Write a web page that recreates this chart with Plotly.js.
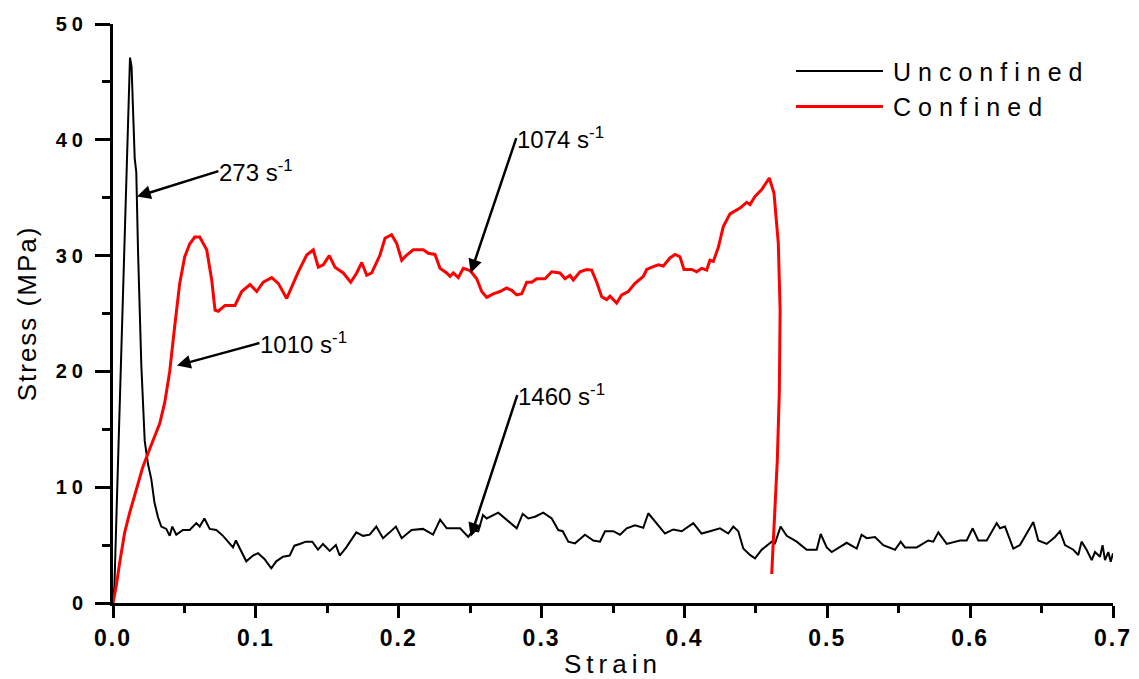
<!DOCTYPE html>
<html>
<head>
<meta charset="utf-8">
<script src="https://cdn.plot.ly/plotly-3.0.1.min.js"></script>
<style>
  html, body { margin: 0; padding: 0; background: #fff; }
  #chart { width: 1139px; height: 679px; }
  .xtick text { letter-spacing: 2px; }
  .ytick text { letter-spacing: 5px; }
  .xtitle { letter-spacing: 5px; }
  .ytitle { letter-spacing: 2px; }
  .legendtext { letter-spacing: 7px; }
</style>
</head>
<body>
<div id="chart"></div>
<script>
// ---- Data ----
const seriesNames = ['Unconfined', 'Confined'];

const strainUnconfined = [0, 0.001, 0.003, 0.005, 0.007, 0.009, 0.0105, 0.0119, 0.013, 0.014, 0.0152, 0.0163, 0.0175, 0.0198, 0.0222, 0.0245, 0.0268, 0.029, 0.0315, 0.0338, 0.0373, 0.0397, 0.0415, 0.0443, 0.049, 0.0537, 0.0583, 0.0607, 0.064, 0.0677, 0.0723, 0.077, 0.0805, 0.084, 0.086, 0.0898, 0.0933, 0.098, 0.1015, 0.106, 0.1108, 0.1143, 0.119, 0.1237, 0.127, 0.1307, 0.135, 0.1395, 0.1435, 0.147, 0.1517, 0.156, 0.1587, 0.1633, 0.1703, 0.175, 0.1797, 0.1843, 0.189, 0.1937, 0.198, 0.2021, 0.209, 0.217, 0.224, 0.229, 0.2336, 0.243, 0.2487, 0.252, 0.2557, 0.259, 0.2616, 0.2697, 0.2756, 0.2826, 0.2868, 0.2907, 0.2954, 0.3012, 0.3071, 0.3117, 0.3148, 0.3187, 0.3234, 0.3304, 0.3362, 0.3409, 0.3444, 0.3502, 0.3549, 0.3596, 0.3654, 0.3712, 0.3747, 0.3806, 0.3864, 0.3922, 0.3981, 0.4062, 0.412, 0.4179, 0.4249, 0.4307, 0.4342, 0.4377, 0.4412, 0.4459, 0.4494, 0.4541, 0.4611, 0.4634, 0.4673, 0.4716, 0.4786, 0.4856, 0.4926, 0.4954, 0.4996, 0.5031, 0.5136, 0.5206, 0.524, 0.5276, 0.5334, 0.5392, 0.5474, 0.5514, 0.5544, 0.5626, 0.5707, 0.5742, 0.5777, 0.5836, 0.5929, 0.5976, 0.6018, 0.6057, 0.6116, 0.6186, 0.6209, 0.6244, 0.6302, 0.6349, 0.6396, 0.6442, 0.6477, 0.6536, 0.6594, 0.6629, 0.6664, 0.6722, 0.6757, 0.678, 0.6815, 0.6851, 0.6874, 0.6909, 0.6927, 0.6944, 0.6967, 0.6984, 0.7];
const stressUnconfined = [0, 1.5, 10, 18.5, 27, 35.5, 41.5, 47.1, 46.3, 43, 38.4, 37.2, 30.5, 20.6, 14.0, 12.0, 10.7, 8.7, 7.4, 6.6, 6.4, 5.8, 6.6, 5.9, 6.3, 6.3, 6.9, 6.6, 7.3, 6.4, 6.3, 5.8, 5.3, 4.8, 5.4, 4.5, 3.6, 4.1, 4.3, 3.8, 3.0, 3.6, 4.0, 4.1, 4.95, 5.1, 5.3, 5.3, 4.6, 5.1, 4.5, 5.0, 4.1, 4.8, 6.1, 5.8, 5.9, 6.6, 5.6, 6.1, 6.6, 5.6, 6.3, 6.4, 5.9, 7.2, 6.45, 6.45, 5.7, 6.3, 6.2, 7.6, 7.3, 7.8, 7.2, 6.45, 7.7, 7.3, 7.45, 7.8, 7.3, 6.3, 6.2, 5.3, 5.15, 5.9, 5.4, 5.3, 6.2, 6.2, 5.9, 6.45, 6.7, 6.5, 7.75, 6.9, 6.0, 6.35, 6.2, 6.9, 6.0, 6.2, 6.45, 6.0, 6.6, 6.2, 4.7, 4.15, 3.86, 4.6, 5.3, 5.15, 6.6, 5.8, 5.3, 4.6, 4.6, 5.96, 4.8, 4.4, 5.2, 4.7, 5.9, 5.6, 5.7, 5.0, 4.6, 5.3, 4.8, 4.8, 5.4, 5.3, 6.1, 5.1, 5.4, 5.4, 6.45, 5.4, 5.4, 6.9, 6.45, 6.6, 4.7, 5.0, 6.0, 7.0, 5.4, 5.1, 5.7, 6.2, 5.0, 4.6, 4.15, 5.3, 4.6, 3.7, 4.4, 4.0, 5.0, 3.7, 4.4, 3.57, 4.3];

const strainConfined = [0, 0.0023, 0.0047, 0.0082, 0.0117, 0.0163, 0.021, 0.0257, 0.029, 0.0327, 0.0362, 0.0397, 0.0432, 0.0467, 0.0502, 0.0537, 0.0572, 0.0607, 0.0656, 0.0691, 0.0714, 0.0737, 0.0784, 0.0854, 0.0901, 0.0959, 0.1006, 0.1052, 0.1111, 0.1157, 0.1216, 0.1251, 0.1297, 0.1356, 0.1402, 0.1437, 0.1472, 0.1514, 0.1554, 0.1612, 0.1664, 0.1706, 0.1741, 0.1776, 0.1811, 0.1869, 0.1904, 0.195, 0.1986, 0.2021, 0.2056, 0.2102, 0.2172, 0.2207, 0.2254, 0.2289, 0.2336, 0.2359, 0.2382, 0.2417, 0.2452, 0.25, 0.2546, 0.2581, 0.2616, 0.2662, 0.2709, 0.2756, 0.2791, 0.2826, 0.2861, 0.2896, 0.2931, 0.2966, 0.3024, 0.3071, 0.3129, 0.3164, 0.3199, 0.3222, 0.3269, 0.3316, 0.3351, 0.3386, 0.3421, 0.3456, 0.3479, 0.3526, 0.3561, 0.3607, 0.3654, 0.3712, 0.3736, 0.3782, 0.3817, 0.3852, 0.3899, 0.3934, 0.3969, 0.3997, 0.4051, 0.4086, 0.4121, 0.4156, 0.4179, 0.4202, 0.4237, 0.4272, 0.4319, 0.4389, 0.4436, 0.4459, 0.4494, 0.4541, 0.4576, 0.4594, 0.4627, 0.4657, 0.467, 0.4664, 0.465, 0.4634, 0.4611];
const stressConfined = [0, 1.5, 3.5, 6.1, 7.8, 9.7, 11.8, 13.3, 14.4, 15.5, 17.3, 20.0, 23.9, 27.6, 29.9, 31.0, 31.6, 31.6, 30.5, 27.9, 25.3, 25.2, 25.7, 25.7, 26.9, 27.5, 26.9, 27.7, 28.1, 27.6, 26.3, 27.3, 28.6, 30.05, 30.5, 29.0, 29.2, 30.0, 29.0, 28.5, 27.7, 28.5, 29.4, 28.3, 28.5, 30.05, 31.5, 31.8, 31.05, 29.6, 30.05, 30.5, 30.5, 30.2, 30.1, 28.9, 28.5, 28.2, 28.5, 28.1, 28.9, 28.7, 28.0, 26.9, 26.4, 26.7, 26.9, 27.2, 27.0, 26.6, 26.7, 27.7, 27.7, 28.0, 28.0, 28.6, 28.5, 28.0, 28.3, 27.9, 28.6, 28.8, 28.75, 27.7, 26.45, 26.2, 26.5, 25.9, 26.6, 26.9, 27.6, 28.2, 28.8, 29.05, 29.2, 29.1, 29.8, 30.1, 29.9, 28.8, 28.8, 28.6, 28.9, 28.75, 29.6, 29.5, 30.7, 32.5, 33.6, 34.1, 34.6, 34.4, 35.1, 35.7, 36.4, 36.7, 35.4, 31.1, 25.3, 18.1, 12.3, 8.0, 2.5];

const rateLabels = ['273 s<sup>-1</sup>', '1010 s<sup>-1</sup>', '1074 s<sup>-1</sup>', '1460 s<sup>-1</sup>'];

// ---- Chart ----
const FONT = 'Liberation Sans, Arial, Helvetica, sans-serif';

const traces = [
  { x: strainUnconfined, y: stressUnconfined, name: seriesNames[0], type: 'scatter', mode: 'lines',
    line: { color: '#000000', width: 2 } },
  { x: strainConfined, y: stressConfined, name: seriesNames[1], type: 'scatter', mode: 'lines',
    line: { color: '#ff0000', width: 3 } }
];

// label with an arrow: text box starts at the arrow tail, arrow points at the curve
function callout(txt, tipX, tipY, tailX, tailY) {
  return { x: tipX, y: tipY, ax: tailX, ay: tailY, xref: 'x', yref: 'y', axref: 'x', ayref: 'y',
           text: txt, showarrow: true, arrowhead: 2, arrowsize: 1.1, arrowwidth: 2.5, arrowcolor: '#000',
           xanchor: 'left', yanchor: 'middle', borderpad: 0,
           font: { family: FONT, size: 24, color: '#000' } };
}

const annotations = [
  callout(rateLabels[0], 0.0168, 35.1, 0.0738, 37.3),
  callout(rateLabels[1], 0.0448, 20.5, 0.1025, 22.45),
  callout(rateLabels[2], 0.2504, 28.5, 0.2823, 40.15),
  callout(rateLabels[3], 0.2504, 5.73, 0.2830, 17.96)
];

const layout = {
  width: 1139, height: 679,
  margin: { l: 113, r: 26, t: 24, b: 76 },
  paper_bgcolor: '#ffffff', plot_bgcolor: '#ffffff',
  font: { family: FONT, color: '#000' },
  showlegend: true,
  legend: { x: 0.678, y: 0.958, xanchor: 'left', yanchor: 'top', bgcolor: 'rgba(0,0,0,0)',
            borderwidth: 0, itemwidth: 92, font: { family: FONT, size: 25, color: '#000' } },
  xaxis: {
    range: [0, 0.7], dtick: 0.1, tick0: 0, tickformat: '.1f',
    showgrid: false, zeroline: false, showline: true, linecolor: '#000', linewidth: 3,
    ticks: 'outside', ticklen: 12, tickwidth: 3, tickcolor: '#000',
    minor: { dtick: 0.05, ticks: 'outside', ticklen: 7, tickwidth: 3, tickcolor: '#000', showgrid: false },
    tickfont: { family: FONT, size: 23, color: '#000', weight: 'bold' },
    title: { text: 'Strain', font: { family: FONT, size: 26, color: '#000' }, standoff: 6 },
    fixedrange: true
  },
  yaxis: {
    range: [0, 50], dtick: 10, tick0: 0,
    showgrid: false, zeroline: false, showline: true, linecolor: '#000', linewidth: 3,
    ticks: 'outside', ticklen: 15, tickwidth: 3, tickcolor: '#000',
    minor: { dtick: 5, ticks: 'outside', ticklen: 8, tickwidth: 3, tickcolor: '#000', showgrid: false },
    tickfont: { family: FONT, size: 20, color: '#000', weight: 'bold' },
    ticklabelstandoff: 3,
    title: { text: 'Stress (MPa)', font: { family: FONT, size: 26, color: '#000' }, standoff: 12 },
    fixedrange: true
  },
  annotations: annotations
};

Plotly.newPlot('chart', traces, layout, { displayModeBar: false, staticPlot: true }).then(function (gd) {
  // lengthen the legend line samples to match the reference
  gd.querySelectorAll('.legend .legendlines path').forEach(function (p) {
    p.setAttribute('d', 'M5,0h87');
  });
});
</script>
</body>
</html>
